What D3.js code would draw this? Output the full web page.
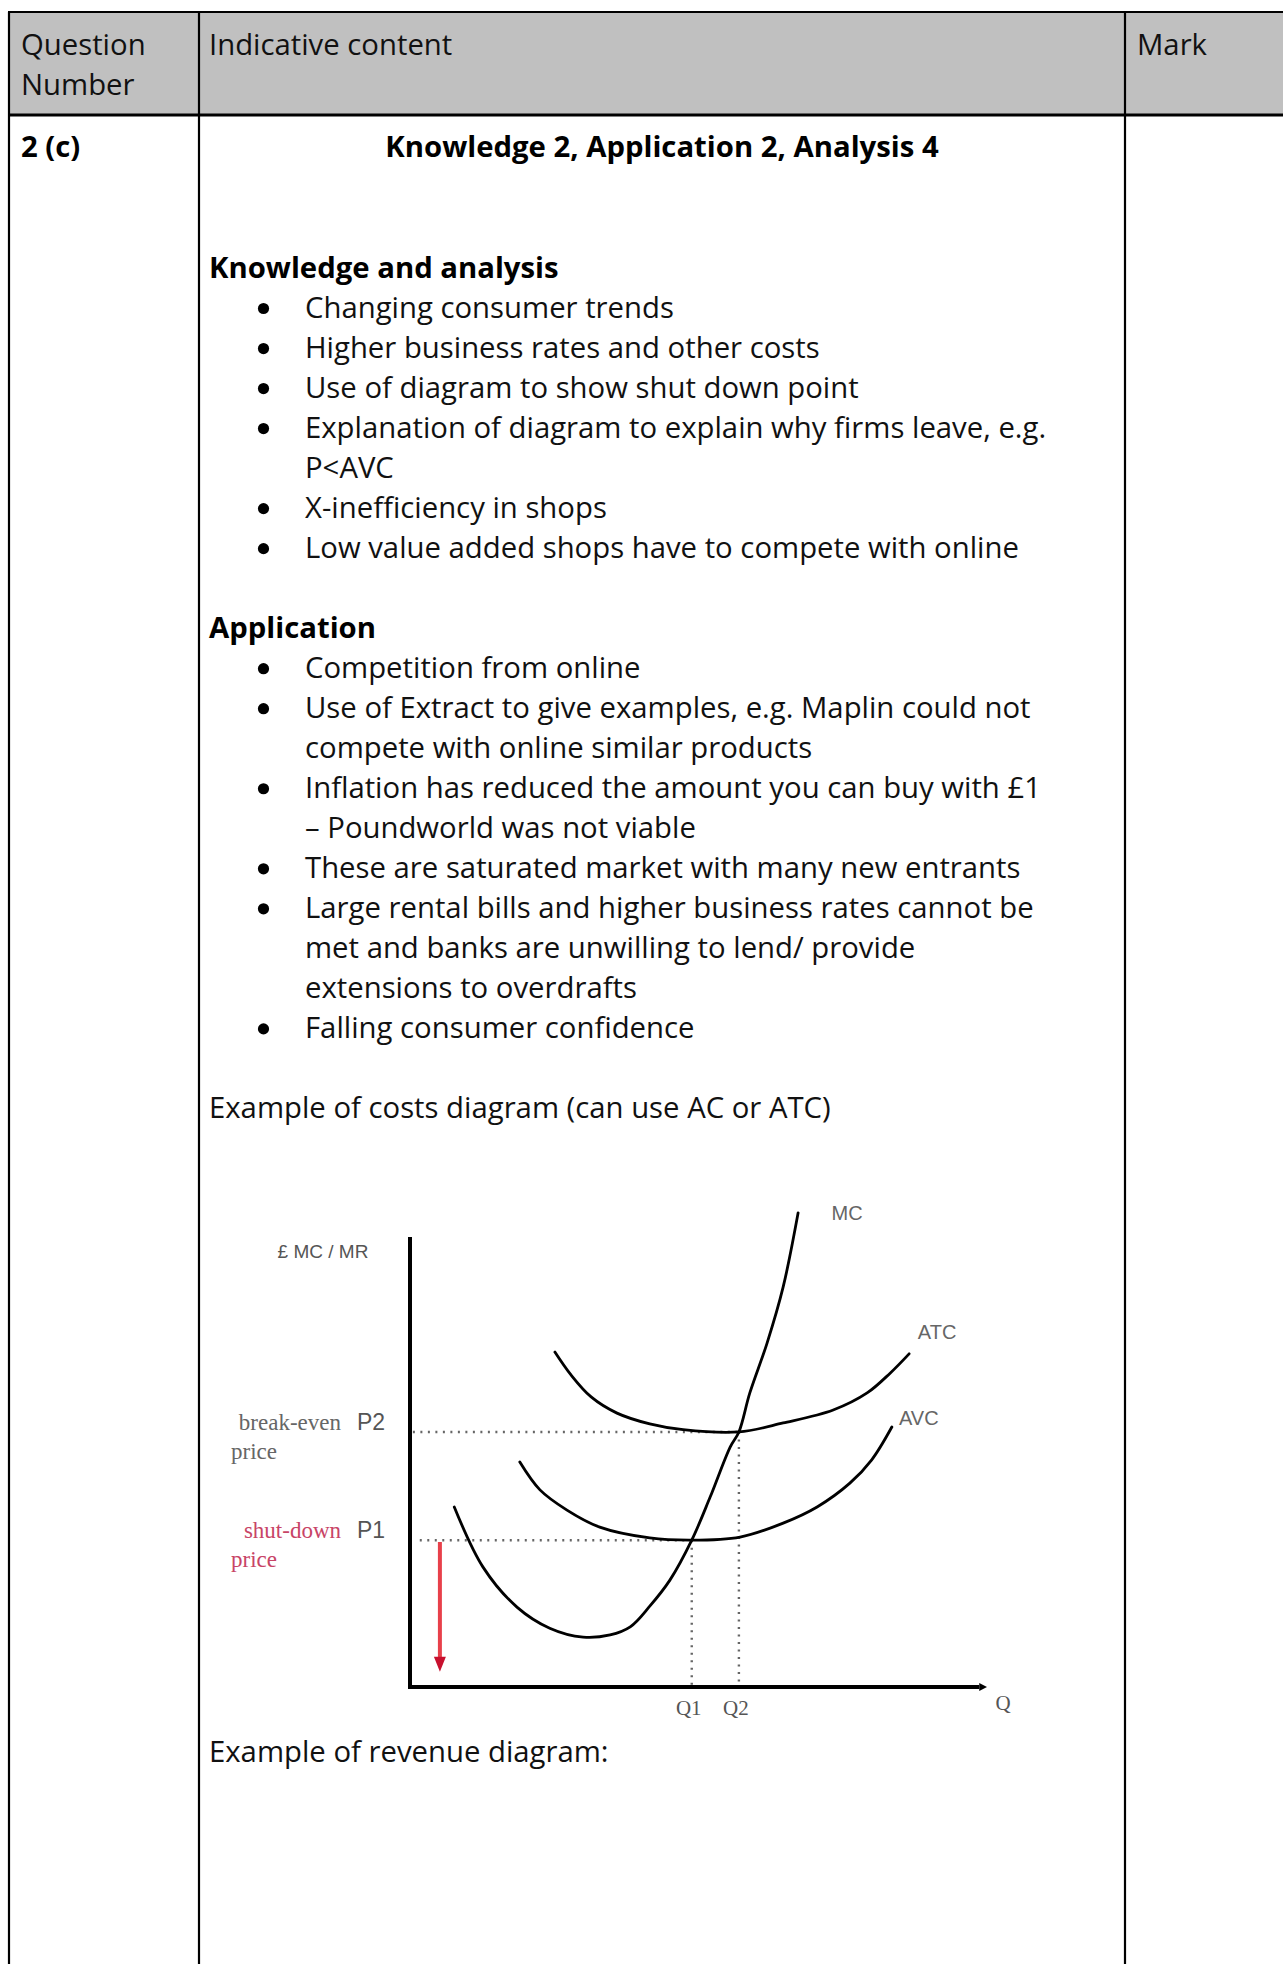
<!DOCTYPE html>
<html><head><meta charset="utf-8">
<script src="https://cdn.jsdelivr.net/npm/d3@7"></script>
<style>body{margin:0;background:#fff}svg{display:block}</style>
</head><body><div id="c"></div>
<script>
// ---------- document text ----------
const headerTexts = ["Question", "Number", "Indicative content", "Mark"];
const questionNumber = "2 (c)";
const marksHeading = "Knowledge 2, Application 2, Analysis 4";
const lineKinds = ["h","b","b","b","b","c","b","b","","h","b","b","c","b","c","b","b","c","c","b","","p"];
const lineTexts = [
  "Knowledge and analysis",
  "Changing consumer trends",
  "Higher business rates and other costs",
  "Use of diagram to show shut down point",
  "Explanation of diagram to explain why firms leave, e.g.",
  "P<AVC",
  "X-inefficiency in shops",
  "Low value added shops have to compete with online",
  "",
  "Application",
  "Competition from online",
  "Use of Extract to give examples, e.g. Maplin could not",
  "compete with online similar products",
  "Inflation has reduced the amount you can buy with £1",
  "– Poundworld was not viable",
  "These are saturated market with many new entrants",
  "Large rental bills and higher business rates cannot be",
  "met and banks are unwilling to lend/ provide",
  "extensions to overdrafts",
  "Falling consumer confidence",
  "",
  "Example of costs diagram (can use AC or ATC)"
];
const trailingText = "Example of revenue diagram:";

// ---------- diagram data (quantity, cost in axis units 0-100) ----------
const mcQ    = [7.7, 12.7, 18.6, 24.3, 30.1, 34.8, 38.3, 41.7, 45.2, 49.0, 52.2, 55.7, 57.2, 59.1, 62.1, 64.9, 67.5];
const mcCost = [40.1, 26.7, 17.8, 13.1, 11.1, 11.6, 13.4, 18.0, 23.8, 32.7, 42.3, 53.5, 56.8, 65.5, 76.6, 89.1, 105.6];
const atcQ    = [25.2, 28.0, 31.5, 36.0, 41.7, 47.5, 57.2, 64.9, 73.6, 79.5, 83.5, 86.8];
const atcCost = [74.6, 69.5, 64.6, 61.0, 58.6, 57.3, 56.8, 58.8, 61.7, 65.5, 69.9, 74.2];
const avcQ    = [19.1, 22.6, 27.3, 33.0, 41.7, 49.0, 57.4, 64.9, 70.8, 76.5, 80.3, 83.8];
const avcCost = [50.1, 43.9, 39.4, 35.6, 33.2, 32.7, 33.4, 36.5, 40.1, 45.4, 50.6, 57.9];
const curveNames = ["MC", "ATC", "AVC"];
const priceNames = ["P2", "P1"];
const priceValues = [56.8, 32.7];
const priceDescriptions = [["break-even", "price"], ["shut-down", "price"]];
const quantityNames = ["Q1", "Q2"];
const quantityValues = [49.0, 57.2];
const yAxisTitle = "£ MC / MR";
const xAxisTitle = "Q";
const shutDownArrow = [32.3, 3.4]; // from P1 down to near the Q axis
const arrowQ = 5.2;

// ---------- drawing ----------
const W = 1283, H = 1964;
const svg = d3.select("#c").append("svg").attr("width", W).attr("height", H);
const FONT = "'Open Sans', 'Noto Sans', sans-serif";
const FS = 29.3;

// table
const colX = [9, 199, 1125];
const topY = 12, headBottom = 115;
svg.append("rect").attr("x", 9).attr("y", topY).attr("width", W - 9).attr("height", headBottom - topY).attr("fill", "#c0c0c0");
const lines = svg.append("g").attr("stroke", "#000");
lines.append("line").attr("x1", 8).attr("x2", W).attr("y1", topY).attr("y2", topY).attr("stroke-width", 2.2);
lines.append("line").attr("x1", 8).attr("x2", W).attr("y1", headBottom).attr("y2", headBottom).attr("stroke-width", 3);
colX.forEach(x => lines.append("line").attr("x1", x).attr("x2", x).attr("y1", topY).attr("y2", H).attr("stroke-width", 2.2));

const txt = svg.append("g").attr("font-family", FONT).attr("font-size", FS).attr("fill", "#111");
txt.append("text").attr("x", 21).attr("y", 55).text(headerTexts[0]);
txt.append("text").attr("x", 21).attr("y", 95).text(headerTexts[1]);
txt.append("text").attr("x", 209).attr("y", 55).text(headerTexts[2]);
txt.append("text").attr("x", 1137).attr("y", 55).text(headerTexts[3]);
txt.append("text").attr("x", 21).attr("y", 157).attr("font-weight", 700).attr("fill", "#000").text(questionNumber);
txt.append("text").attr("x", (colX[1] + colX[2]) / 2).attr("y", 157).attr("text-anchor", "middle").attr("font-weight", 700).attr("fill", "#000").text(marksHeading);

const y0 = 277.5, pitch = 40.02;
lineTexts.forEach((t, i) => {
  const k = lineKinds[i];
  if (!t) return;
  const by = y0 + i * pitch;
  if (k === "h") txt.append("text").attr("x", 209).attr("y", by).attr("font-weight", 700).attr("fill", "#000").text(t);
  else if (k === "p") txt.append("text").attr("x", 209).attr("y", by).text(t);
  else {
    txt.append("text").attr("x", 305).attr("y", by).text(t);
    if (k === "b") txt.append("circle").attr("cx", 263.5).attr("cy", by - 9).attr("r", 5.6).attr("fill", "#000");
  }
});
txt.append("text").attr("x", 209).attr("y", 1762).text(trailingText);

// diagram
const x = d3.scaleLinear().domain([0, 100]).range([410, 985]);
const y = d3.scaleLinear().domain([0, 100]).range([1687, 1238]);
const dg = svg.append("g");

// dotted guides
const dots = dg.append("g").attr("stroke", "#666").attr("stroke-width", 2.4).attr("stroke-dasharray", "2,5.5").attr("fill", "none");
dots.append("line").attr("x1", x(0.5)).attr("x2", x(quantityValues[1])).attr("y1", y(priceValues[0])).attr("y2", y(priceValues[0]));
dots.append("line").attr("x1", x(quantityValues[1])).attr("x2", x(quantityValues[1])).attr("y1", y(priceValues[0])).attr("y2", y(0));
dots.append("line").attr("x1", x(1.7)).attr("x2", x(quantityValues[0])).attr("y1", y(priceValues[1])).attr("y2", y(priceValues[1]));
dots.append("line").attr("x1", x(quantityValues[0])).attr("x2", x(quantityValues[0])).attr("y1", y(priceValues[1])).attr("y2", y(0));

// curves
const line = d3.line().x(d => x(d[0])).y(d => y(d[1])).curve(d3.curveCatmullRom.alpha(0.5));
const series = [d3.zip(mcQ, mcCost), d3.zip(atcQ, atcCost), d3.zip(avcQ, avcCost)];
series.forEach(s => dg.append("path").attr("d", line(s)).attr("fill", "none").attr("stroke", "#000").attr("stroke-width", 2.8).attr("stroke-linecap", "round"));

// axes
const ax = dg.append("g").attr("stroke", "#000").attr("stroke-width", 4);
ax.append("line").attr("x1", x(0)).attr("x2", x(0)).attr("y1", y(100.2)).attr("y2", y(0) + 2);
ax.append("line").attr("x1", x(0) - 2).attr("x2", x(99)).attr("y1", y(0)).attr("y2", y(0));
dg.append("path").attr("d", `M${x(99)},${y(0) - 4}L${x(100)+2},${y(0)}L${x(99)},${y(0) + 4}Z`).attr("fill", "#000");

// red arrow
dg.append("line").attr("x1", x(arrowQ)).attr("x2", x(arrowQ)).attr("y1", y(shutDownArrow[0])).attr("y2", y(shutDownArrow[1]) - 12)
  .attr("stroke", "#e8404a").attr("stroke-width", 4);
dg.append("path").attr("d", `M${x(arrowQ) - 6},${y(shutDownArrow[1]) - 15}L${x(arrowQ) + 6},${y(shutDownArrow[1]) - 15}L${x(arrowQ)},${y(shutDownArrow[1])}Z`).attr("fill", "#c8102e");

// labels
const lab = dg.append("g").attr("fill", "#555");
const SANS = "'Liberation Sans', Arial, sans-serif", SERIF = "'Liberation Serif', 'Times New Roman', serif";
lab.append("text").attr("x", 323).attr("y", 1258).attr("text-anchor", "middle").attr("font-family", SANS).attr("font-size", 19).attr("fill", "#555").text(yAxisTitle);
const ends = series.map(s => s[s.length - 1]);
const labOff = [[49, 0], [28, -22], [27, -9]];
curveNames.forEach((n, i) => lab.append("text").attr("x", x(ends[i][0]) + labOff[i][0]).attr("y", y(ends[i][1]) + labOff[i][1] + 7)
  .attr("text-anchor", "middle").attr("font-family", SANS).attr("font-size", 20).attr("fill", "#666").text(n));
priceNames.forEach((n, i) => {
  const py = y(priceValues[i]) - 10;
  lab.append("text").attr("x", 371).attr("y", py + 8).attr("text-anchor", "middle").attr("font-family", SANS).attr("font-size", 23).attr("fill", "#555").text(n);
  const col = i === 0 ? "#666" : "#c84466";
  lab.append("text").attr("x", 341).attr("y", py + 8).attr("text-anchor", "end").attr("font-family", SERIF).attr("font-size", 23).attr("fill", col).text(priceDescriptions[i][0]);
  lab.append("text").attr("x", 231).attr("y", py + 37).attr("font-family", SERIF).attr("font-size", 23).attr("fill", col).text(priceDescriptions[i][1]);
});
quantityNames.forEach((n, i) => lab.append("text").attr("x", x(quantityValues[i]) - 3).attr("y", 1715).attr("text-anchor", "middle").attr("font-family", SERIF).attr("font-size", 21).attr("fill", "#555").text(n));
lab.append("text").attr("x", x(100) + 18).attr("y", 1710).attr("text-anchor", "middle").attr("font-family", SERIF).attr("font-size", 21).attr("fill", "#555").text(xAxisTitle);
</script>
</body></html>
